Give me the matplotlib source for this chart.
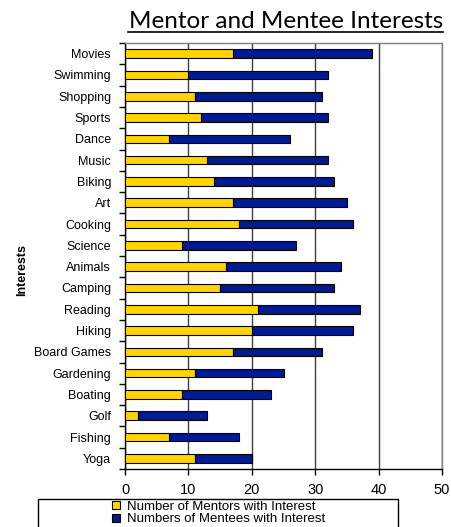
import matplotlib
matplotlib.use("Agg")
import matplotlib.pyplot as plt
import numpy as np
from matplotlib.patches import Rectangle

categories = ["Movies", "Swimming", "Shopping", "Sports", "Dance", "Music", "Biking",
              "Art", "Cooking", "Science", "Animals", "Camping", "Reading", "Hiking",
              "Board Games", "Gardening", "Boating", "Golf", "Fishing", "Yoga"]
mentors = [17, 10, 11, 12, 7, 13, 14, 17, 18, 9, 16, 15, 21, 20, 17, 11, 9, 2, 7, 11]
mentees = [22, 22, 20, 20, 19, 19, 19, 18, 18, 18, 18, 18, 16, 16, 14, 14, 14, 11, 11, 9]
xticks = [0, 10, 20, 30, 40, 50]

plt.rcParams['font.family'] = ['Liberation Sans', 'DejaVu Sans']

W, H = 451, 527
fig = plt.figure(figsize=(W / 100, H / 100), dpi=100)
ax = fig.add_axes([125 / W, 1 - 469 / H, (442 - 125) / W, (469 - 43) / H])

y = np.arange(len(categories))
yellow = '#FFD400'
blue = '#001A8F'
ax.barh(y, mentors, height=0.4, color=yellow, edgecolor='black', linewidth=0.8,
        label='Number of Mentors with Interest', zorder=3)
ax.barh(y, mentees, left=mentors, height=0.4, color=blue, edgecolor='black', linewidth=0.8,
        label='Numbers of Mentees with Interest', zorder=3)

ax.set_xlim(0, 50)
ax.set_ylim(len(categories) - 0.5, -0.5)
ax.set_xticks(xticks)
ax.set_xticklabels([str(t) for t in xticks], fontsize=10.5)
ax.set_yticks(y)
ax.set_yticklabels(categories, fontsize=9)
ax.tick_params(axis='y', length=0, pad=10)
ax.set_yticks(np.arange(len(categories) + 1) - 0.5, minor=True)
ax.tick_params(axis='y', which='minor', length=4, width=1, color='black', direction='out')
ax.tick_params(axis='x', length=4, width=1, direction='out', pad=6)

for s in ['top', 'right']:
    ax.spines[s].set_color('#808080')
    ax.spines[s].set_linewidth(1)
for s in ['left', 'bottom']:
    ax.spines[s].set_color('black')
    ax.spines[s].set_linewidth(1)

ax.xaxis.grid(True, color='#404040', linewidth=1)
ax.set_axisbelow(True)

fig.text(22 / W, 1 - 270 / H, 'Interests', rotation=90, fontsize=9, fontweight='bold',
         ha='center', va='center')

fig.text(443 / W, 1 - 28 / H, 'Mentor and Mentee Interests', fontsize=17.5,
         family=['Lato', 'DejaVu Sans'], ha='right', va='baseline')
fig.add_artist(plt.Line2D([128 / W, 443 / W], [1 - 32 / H, 1 - 32 / H], color='black', linewidth=1.2))

# legend frame
fig.add_artist(Rectangle((38 / W, 1 - 540 / H), (398 - 38) / W, (540 - 499) / H,
                         transform=fig.transFigure, facecolor='white', edgecolor='black',
                         linewidth=1, zorder=1))
leg = fig.legend(loc='upper left', bbox_to_anchor=(111 / W, 1 - 499.5 / H), frameon=False,
                 fontsize=9.5, handlelength=0.6, handleheight=0.6, handletextpad=0.5,
                 labelspacing=0.05, borderpad=0.1, borderaxespad=0)
leg.set_zorder(2)

fig.savefig('out.png', dpi=100)
